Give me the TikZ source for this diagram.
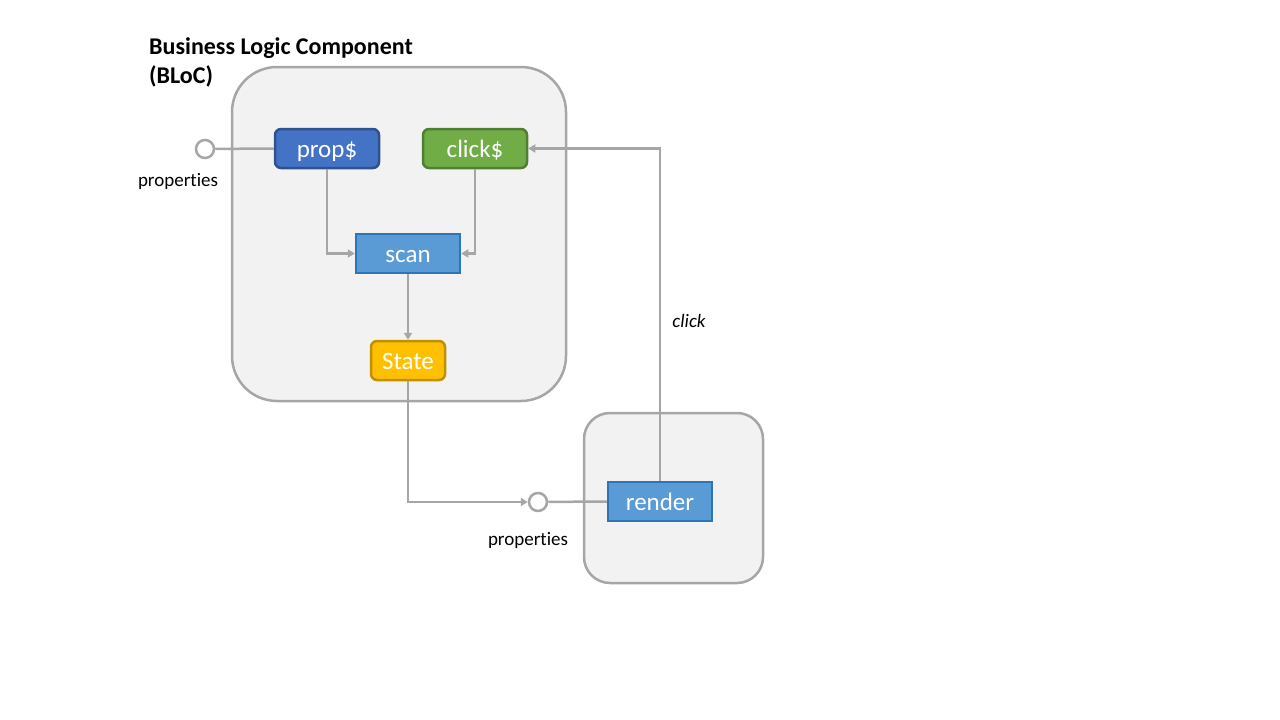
\documentclass[tikz,border=0pt]{standalone}
\usepackage{fontspec}
\setmainfont{Carlito}[Ligatures=NoCommon]
\usetikzlibrary{arrows.meta}
\definecolor{linegray}{HTML}{A6A6A6}
\definecolor{boxgray}{HTML}{F2F2F2}
\definecolor{propblue}{HTML}{4472C4}
\definecolor{propedge}{HTML}{2F528F}
\definecolor{clickgreen}{HTML}{70AD47}
\definecolor{clickedge}{HTML}{507E32}
\definecolor{scanblue}{HTML}{5B9BD5}
\definecolor{scanedge}{HTML}{2E75B6}
\definecolor{stateyellow}{HTML}{FFC000}
\definecolor{stateedge}{HTML}{BF9000}
\begin{document}
\begin{tikzpicture}[x=1pt,y=-1pt,
    container/.style={draw=linegray,fill=boxgray,line width=2.5pt},
    block/.style={line width=2.5pt,minimum width=104pt,minimum height=39pt,
      inner sep=0pt,text=white,font=\fontsize{25}{30}\selectfont,
      text height=19pt,text depth=1pt},
    port/.style={circle,draw=linegray,fill=white,line width=2.5pt,
      minimum size=18pt,inner sep=0pt},
    wire/.style={draw=linegray,line width=2.5pt},
    flow/.style={wire,-{Triangle[width=8pt,length=7pt]}},
    caption/.style={font=\fontsize{19}{23}\selectfont}]
    \useasboundingbox (0,0) rectangle (1280,720);
    % containers
    \draw[container,rounded corners=45pt] (232,67) rectangle (566,401);
    \draw[container,rounded corners=26pt] (584,413) rectangle (763,583);
    \node[anchor=north west,align=left,inner sep=0pt,
      font=\fontsize{24}{29}\selectfont\bfseries] (title) at (149,37)
      {Business Logic Component\\(BLoC)};
    % blocks
    \node[block,rounded corners=6pt,fill=propblue,draw=propedge] (prop) at (327,148.5) {prop\$};
    \node[block,rounded corners=6pt,fill=clickgreen,draw=clickedge] (click) at (475,148.5) {click\$};
    \node[block,fill=scanblue,draw=scanedge] (scan) at (408,253.5) {scan};
    \node[block,rounded corners=6pt,minimum width=74pt,fill=stateyellow,draw=stateedge] (state) at (408,360.5) {State};
    \node[block,fill=scanblue,draw=scanedge] (render) at (660,501.5) {render};
    % ports
    \node[port] (inport) at (205,149) {};
    \node[caption] (inlabel) at (178,181) {properties};
    \node[port] (outport) at (538,502) {};
    \node[caption] (outlabel) at (528,540) {properties};
    \node[caption,font=\fontsize{19}{23}\selectfont\itshape] (clicklabel) at (689,321) {click};
    % connectors
    \draw[wire] (inport) -- (prop.west);
    \draw[flow] (prop.south) |- (scan.west);
    \draw[flow] (click.south) |- (scan.east);
    \draw[flow] (scan) -- (state);
    \draw[flow] (state.south) |- (outport.west);
    \draw[wire] (outport) -- (render.west);
    \draw[flow] (render.north) |- (click.east);
\end{tikzpicture}
\end{document}
